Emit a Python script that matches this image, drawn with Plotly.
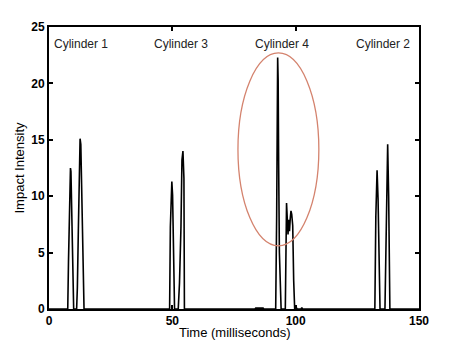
import plotly.graph_objects as go

# Knock-sensor impact trace, one burst per cylinder firing (time in ms)
baseline_t = [0.0, 7.4]
baseline_y = [0.0, 0.0]

cyl1_t = [7.6, 7.9, 8.3, 8.7, 8.9, 9.3, 9.7, 10.0, 11.2, 11.5, 11.9, 12.3, 12.6, 12.9, 13.3, 13.8, 14.2]
cyl1_y = [0.0, 4.2, 10.8, 12.5, 12.2, 8.1, 3.6, 0.0, 0.0, 1.9, 7.0, 12.0, 15.1, 14.6, 8.8, 3.3, 0.0]

gap1_t = [15.0, 21.0, 21.3, 33.8, 34.1, 48.6]
gap1_y = [0.0, 0.0, 0.06, 0.06, 0.0, 0.0]

cyl3_t = [48.9, 49.2, 49.8, 50.1, 50.3, 50.7, 50.9, 52.4, 52.9, 53.5, 53.9, 54.3, 54.7, 54.9]
cyl3_y = [0.0, 7.3, 11.3, 10.1, 8.1, 3.5, 0.0, 0.0, 2.3, 7.3, 13.2, 14.0, 11.6, 0.0]

gap3_t = [55.5, 83.5, 83.8, 86.8, 87.1, 91.7]
gap3_y = [0.0, 0.0, 0.08, 0.08, 0.0, 0.0]

cyl4_t = [91.9, 92.3, 92.7, 92.9, 93.1, 93.4, 94.1, 95.8, 96.3, 96.6, 96.9, 97.2, 97.5, 97.8, 98.1, 98.4, 98.8, 99.2, 99.6, 100.2, 100.6]
cyl4_y = [0.0, 8.3, 22.3, 20.3, 12.8, 5.0, 0.0, 0.0, 9.4, 8.1, 6.6, 7.9, 6.9, 8.0, 8.7, 8.4, 7.4, 2.5, 0.0, 0.15, 0.0]

gap4_t = [102.2, 102.5, 102.8, 123.0, 123.3, 129.3, 129.6, 131.9]
gap4_y = [0.0, 0.12, 0.0, 0.0, 0.06, 0.06, 0.0, 0.0]

cyl2_t = [132.1, 132.5, 133.0, 133.4, 133.8, 134.2, 136.2, 136.5, 136.9, 137.3, 137.7, 138.0, 138.2]
cyl2_y = [0.0, 8.2, 12.3, 9.8, 3.9, 0.0, 0.0, 4.5, 10.7, 14.6, 10.0, 4.4, 0.0]

tail_t = [139.0, 150.0]
tail_y = [0.0, 0.0]

cylinder_labels = ["Cylinder 1", "Cylinder 3", "Cylinder 4", "Cylinder 2"]
label_t = [13.0, 53.7, 94.6, 135.6]
label_y = 23.5

x_ticks = [0, 50, 100, 150]
y_ticks = [0, 5, 10, 15, 20, 25]

time_ms = baseline_t + cyl1_t + gap1_t + cyl3_t + gap3_t + cyl4_t + gap4_t + cyl2_t + tail_t
intensity = baseline_y + cyl1_y + gap1_y + cyl3_y + gap3_y + cyl4_y + gap4_y + cyl2_y + tail_y

FONT = "Liberation Sans, Arial, sans-serif"

fig = go.Figure()
fig.add_trace(go.Scatter(
    x=time_ms, y=intensity, mode="lines",
    line=dict(color="black", width=1.6),
    hoverinfo="skip", showlegend=False,
))

for name, t in zip(cylinder_labels, label_t):
    fig.add_annotation(
        x=t, y=label_y, xref="x", yref="y", text=name, showarrow=False,
        font=dict(family=FONT, size=12, color="#222222"),
    )

# Axis title for time, placed just under the tick labels
fig.add_annotation(
    x=0.5, y=0, xref="paper", yref="paper", yanchor="top", yshift=-14,
    text="Time (milliseconds)", showarrow=False,
    font=dict(family=FONT, size=13, color="black"),
)

# Highlight around the Cylinder 4 burst
fig.add_shape(
    type="circle", xref="x", yref="y",
    x0=76.6, x1=109.4, y0=5.6, y1=22.7,
    line=dict(color="#d4836e", width=1.3),
)

axis_common = dict(
    showline=True, linecolor="black", linewidth=2, mirror="ticks",
    ticks="inside", ticklen=4, tickwidth=1.5, tickcolor="black",
    showgrid=False, zeroline=False, automargin=False,
    tickfont=dict(family=FONT, size=12, color="black", weight="bold"),
)

fig.update_layout(
    width=451, height=348,
    margin=dict(l=49, r=32, t=27, b=39),
    paper_bgcolor="white", plot_bgcolor="white",
    xaxis=dict(range=[0, 150], tickvals=x_ticks, **axis_common),
    yaxis=dict(
        range=[0, 25], tickvals=y_ticks,
        title=dict(text="Impact Intensity", standoff=4,
                   font=dict(family=FONT, size=13, color="black")),
        **axis_common,
    ),
)

fig.write_html("out.html")
